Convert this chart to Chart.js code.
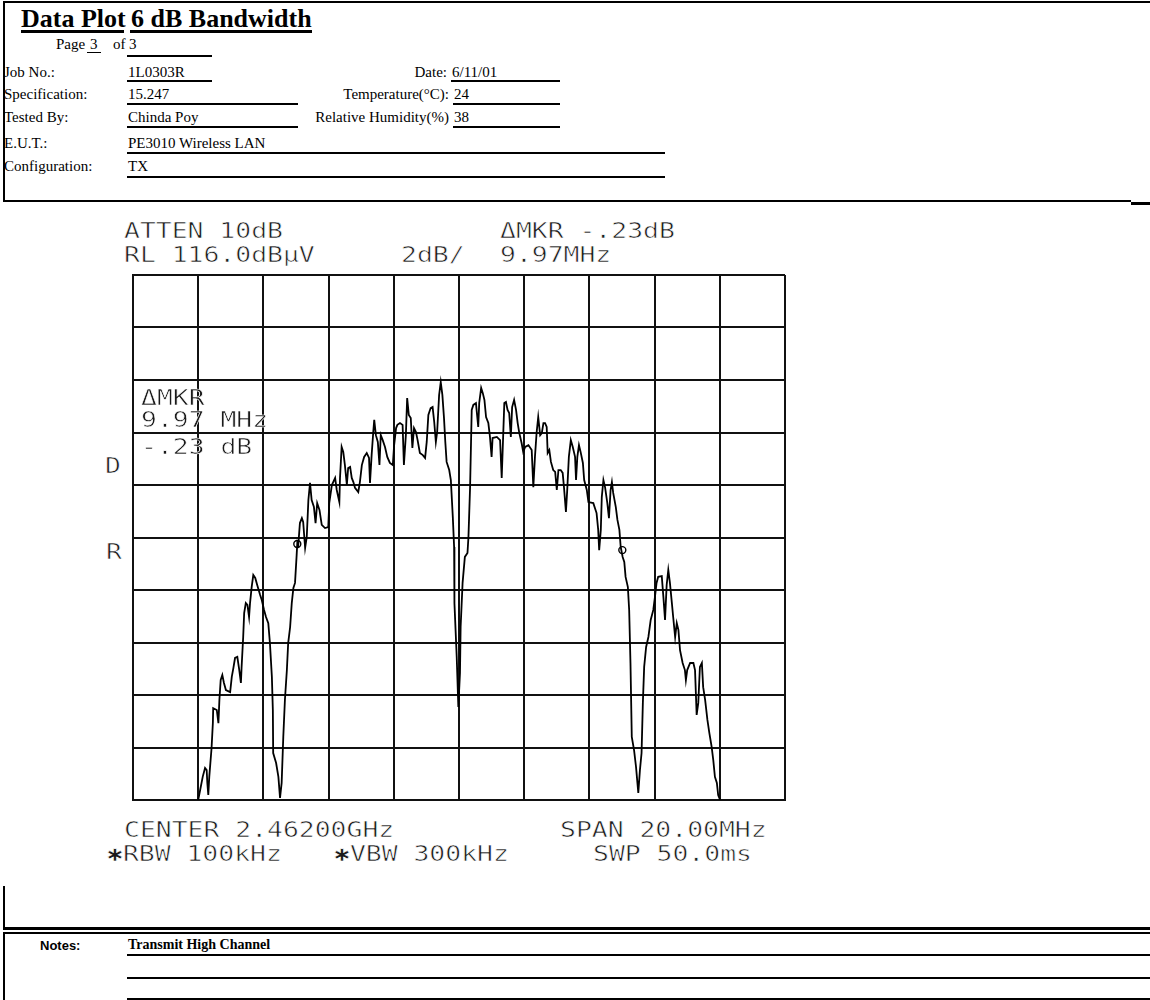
<!DOCTYPE html>
<html>
<head>
<meta charset="utf-8">
<title>Data Plot 6 dB Bandwidth</title>
<script src="https://cdn.jsdelivr.net/npm/chart.js@4.4.1/dist/chart.umd.min.js"></script>
<style>
  html, body { margin: 0; padding: 0; background: #fff; }
  #page { position: relative; width: 1150px; height: 1000px; overflow: hidden; background: #fff; color: #000; }
  .rule { position: absolute; background: #000; }
  .serif { position: absolute; font-family: 'Liberation Serif', 'Times New Roman', serif; font-size: 15px; line-height: 15px; white-space: nowrap; }
  .title { font-weight: bold; font-size: 26px; line-height: 26px; }
  .sans { position: absolute; font-family: 'Liberation Sans', Arial, sans-serif; font-weight: bold; font-size: 13px; line-height: 13px; white-space: nowrap; }
  .hp { position: absolute; font-family: 'DejaVu Sans Mono', monospace; font-size: 22px; line-height: 22px; white-space: pre; transform: scaleX(1.2); transform-origin: 0 0; color: #1a1a1a; -webkit-text-stroke: 0.6px #fff; paint-order: normal; }
  #plot { position: absolute; left: 123px; top: 265px; width: 672px; height: 545px; }
</style>
</head>
<body>
<div id="page">
  <!-- header box -->
  <div class="rule" style="left:3px;top:1px;width:1147px;height:2px"></div>
  <div class="rule" style="left:3px;top:1px;width:2px;height:201px"></div>
  <div class="rule" style="left:3px;top:200px;width:1128px;height:2px"></div>
  <div class="rule" style="left:1131px;top:202px;width:19px;height:3px"></div>

  <div class="serif title" style="left:21px;top:6px">Data Plot</div>
  <div class="rule" style="left:21px;top:30px;width:103px;height:3px"></div>
  <div class="serif title" style="left:131px;top:6px">6 dB Bandwidth</div>
  <div class="rule" style="left:130px;top:30px;width:182px;height:3px"></div>

  <div class="serif" style="left:56px;top:37px">Page</div>
  <div class="serif" style="left:90px;top:37px">3</div>
  <div class="rule" style="left:87px;top:52px;width:14px;height:1px"></div>
  <div class="serif" style="left:113px;top:37px">of</div>
  <div class="serif" style="left:129px;top:37px">3</div>
  <div class="rule" style="left:127px;top:55px;width:85px;height:2px"></div>

  <div class="serif" style="left:4px;top:65px">Job No.:</div>
  <div class="serif" style="left:128px;top:65px">1L0303R</div>
  <div class="rule" style="left:127px;top:80px;width:85px;height:2px"></div>
  <div class="serif" style="right:703px;top:65px">Date:</div>
  <div class="serif" style="left:452px;top:65px">6/11/01</div>
  <div class="rule" style="left:451px;top:80px;width:109px;height:2px"></div>

  <div class="serif" style="left:4px;top:87px">Specification:</div>
  <div class="serif" style="left:128px;top:87px">15.247</div>
  <div class="rule" style="left:127px;top:103px;width:171px;height:2px"></div>
  <div class="serif" style="right:701px;top:87px">Temperature(°C):</div>
  <div class="serif" style="left:454px;top:87px">24</div>
  <div class="rule" style="left:453px;top:103px;width:107px;height:2px"></div>

  <div class="serif" style="left:4px;top:110px">Tested By:</div>
  <div class="serif" style="left:128px;top:110px">Chinda Poy</div>
  <div class="rule" style="left:127px;top:126px;width:171px;height:2px"></div>
  <div class="serif" style="right:701px;top:110px">Relative Humidity(%)</div>
  <div class="serif" style="left:454px;top:110px">38</div>
  <div class="rule" style="left:453px;top:126px;width:107px;height:2px"></div>

  <div class="serif" style="left:4px;top:136px">E.U.T.:</div>
  <div class="serif" style="left:128px;top:136px">PE3010 Wireless LAN</div>
  <div class="rule" style="left:127px;top:152px;width:538px;height:2px"></div>

  <div class="serif" style="left:4px;top:159px">Configuration:</div>
  <div class="serif" style="left:128px;top:159px">TX</div>
  <div class="rule" style="left:127px;top:176px;width:538px;height:2px"></div>

  <!-- analyzer annotations -->
  <div class="hp" id="attn" style="left:124px;top:220px"></div>
  <div class="hp" id="dmkrTop" style="left:500px;top:220px"></div>
  <div class="hp" id="refLevel" style="left:124px;top:244px"></div>
  <div class="hp" id="scaleDiv" style="left:401px;top:244px"></div>
  <div class="hp" id="dmkrFreqTop" style="left:500px;top:244px"></div>
  <div class="hp" style="left:105px;top:455px">D</div>
  <div class="hp" style="left:106px;top:541px">R</div>

  <div id="plot"><canvas id="chart" width="672" height="545" style="width:672px;height:545px"></canvas></div>

  <div class="hp" id="boxHead" style="left:141px;top:387px">ΔMKR</div>
  <div class="hp" id="boxFreq" style="left:141px;top:409px"></div>
  <div class="hp" id="boxDb" style="left:141px;top:436px"></div>

  <div class="hp" id="center" style="left:124px;top:819px"></div>
  <div class="hp" id="span" style="left:560px;top:819px"></div>
  <div class="hp" id="rbw" style="left:107px;top:843px"></div>
  <div class="hp" id="vbw" style="left:334px;top:843px"></div>
  <div class="hp" id="swp" style="left:593px;top:843px"></div>

  <!-- notes box -->
  <div class="rule" style="left:3px;top:886px;width:2px;height:42px"></div>
  <div class="rule" style="left:3px;top:927px;width:1147px;height:3px"></div>
  <div class="rule" style="left:3px;top:932px;width:1147px;height:2px"></div>
  <div class="rule" style="left:3px;top:932px;width:2px;height:68px"></div>
  <div class="sans" style="left:40px;top:939px">Notes:</div>
  <div class="serif" style="left:128px;top:938px;font-weight:bold;font-size:14px;line-height:14px">Transmit High Channel</div>
  <div class="rule" style="left:127px;top:954px;width:1023px;height:2px"></div>
  <div class="rule" style="left:127px;top:977px;width:1023px;height:2px"></div>
  <div class="rule" style="left:127px;top:998px;width:1023px;height:2px"></div>
</div>

<script>
// Analyzer settings
const centerMHz = 2462.0;
const spanMHz = 20.0;
const refLevelDb = 116.0;
const dbPerDiv = 2;
const divisions = 10;
const attenDb = 10;
const rbwKHz = 100;
const vbwKHz = 300;
const sweepMs = 50.0;

// Delta marker readout
const markerRefMHz = 2457.04;
const markerRefDb = 105.75;
const deltaMHz = 9.97;
const deltaDb = -0.23;

// Trace: frequency (MHz) and level (dBuV)
const freqMHz = [
  2452.00, 2453.95,
  2454.00, 2454.06, 2454.14, 2454.21, 2454.26, 2454.28, 2454.31, 2454.34, 2454.41, 2454.45,
  2454.46, 2454.57, 2454.62, 2454.65, 2454.69, 2454.74, 2454.79, 2454.85, 2454.98, 2455.03,
  2455.08, 2455.13, 2455.20, 2455.26, 2455.31, 2455.33, 2455.38, 2455.41, 2455.46, 2455.51,
  2455.56, 2455.59, 2455.64, 2455.69, 2455.75, 2455.81, 2455.90, 2455.95, 2456.02, 2456.08,
  2456.15, 2456.20, 2456.26, 2456.29, 2456.30, 2456.39, 2456.46, 2456.51, 2456.56, 2456.61,
  2456.66, 2456.72, 2456.76, 2456.82, 2456.87, 2456.92, 2456.97, 2457.02, 2457.04, 2457.07,
  2457.12, 2457.18, 2457.22, 2457.28, 2457.33, 2457.38, 2457.43, 2457.48, 2457.55, 2457.60,
  2457.65, 2457.72, 2457.79, 2457.89, 2457.99, 2458.02, 2458.10, 2458.20, 2458.25, 2458.33,
  2458.35, 2458.40, 2458.45, 2458.50, 2458.56, 2458.60, 2458.66, 2458.71, 2458.76, 2458.81,
  2458.91, 2458.96, 2459.02, 2459.09, 2459.17, 2459.24, 2459.27, 2459.32, 2459.37, 2459.40,
  2459.45, 2459.51, 2459.56, 2459.60, 2459.66, 2459.73, 2459.80, 2459.88, 2459.97, 2460.01,
  2460.07, 2460.11, 2460.19, 2460.27, 2460.31, 2460.37, 2460.41, 2460.46, 2460.52, 2460.57,
  2460.62, 2460.68, 2460.73, 2460.80, 2460.89, 2460.96, 2461.01, 2461.06, 2461.13, 2461.19,
  2461.24, 2461.29, 2461.33, 2461.39, 2461.44, 2461.49, 2461.54, 2461.58, 2461.62, 2461.70,
  2461.75, 2461.81, 2461.85, 2461.86, 2461.93, 2461.98, 2462.03, 2462.05, 2462.11, 2462.18,
  2462.26, 2462.29, 2462.34, 2462.39, 2462.44, 2462.52, 2462.59, 2462.62, 2462.68, 2462.73,
  2462.78, 2462.83, 2462.90, 2462.95, 2463.00, 2463.03, 2463.16, 2463.26, 2463.31, 2463.34,
  2463.39, 2463.44, 2463.49, 2463.54, 2463.59, 2463.63, 2463.69, 2463.75, 2463.80, 2463.85,
  2463.92, 2463.97, 2464.03, 2464.13, 2464.23, 2464.28, 2464.33, 2464.38, 2464.43, 2464.49,
  2464.54, 2464.59, 2464.64, 2464.69, 2464.72, 2464.77, 2464.82, 2464.89, 2464.95, 2465.00,
  2465.05, 2465.12, 2465.18, 2465.22, 2465.28, 2465.32, 2465.37, 2465.43, 2465.49, 2465.56,
  2465.59, 2465.63, 2465.68, 2465.73, 2465.80, 2465.84, 2465.92, 2465.97, 2466.12, 2466.22,
  2466.27, 2466.30, 2466.35, 2466.38, 2466.43, 2466.48, 2466.55, 2466.60, 2466.65, 2466.69,
  2466.73, 2466.81, 2466.86, 2466.92, 2466.96, 2467.02, 2467.07, 2467.11, 2467.18, 2467.22,
  2467.26, 2467.30, 2467.37, 2467.43, 2467.50, 2467.55, 2467.60, 2467.64, 2467.68, 2467.74,
  2467.81, 2467.88, 2467.96, 2468.01, 2468.06, 2468.11, 2468.22, 2468.27, 2468.32, 2468.37,
  2468.42, 2468.47, 2468.53, 2468.57, 2468.63, 2468.68, 2468.73, 2468.78, 2468.86, 2468.93,
  2468.96, 2469.00, 2469.09, 2469.19, 2469.24, 2469.29, 2469.34, 2469.39, 2469.45, 2469.49,
  2469.55, 2469.62, 2469.68, 2469.75, 2469.80, 2469.85, 2469.91, 2469.95, 2470.01,
  2470.10, 2472.00
];
const levelDb = [
  95.00, 95.50,
  96.00, 96.38, 96.89, 97.22, 97.14, 96.65, 96.19, 96.89, 97.98, 98.93,
  99.50, 99.43, 98.93, 99.81, 100.57, 100.76, 100.46, 100.19, 100.11, 100.69,
  101.03, 101.41, 101.45, 100.95, 100.46, 101.03, 102.21, 103.12, 103.50, 103.43,
  102.97, 103.50, 104.11, 104.57, 104.46, 104.19, 103.81, 103.62, 103.24, 102.97,
  102.74, 101.98, 100.69, 99.43, 97.79, 97.41, 96.88, 96.08, 96.65, 98.40,
  99.81, 100.95, 101.98, 102.59, 103.50, 104.08, 104.27, 105.33, 105.79, 105.71,
  106.55, 106.74, 106.59, 105.60, 106.02, 107.43, 108.08, 107.43, 107.16, 106.55,
  107.31, 107.05, 106.48, 106.36, 106.40, 107.31, 108.00, 108.27, 107.81, 107.35,
  108.27, 109.45, 109.26, 108.76, 108.00, 108.65, 108.69, 108.27, 108.11, 107.89,
  107.73, 108.11, 108.76, 109.07, 109.22, 109.03, 108.08, 109.14, 110.02, 110.48,
  109.90, 109.64, 108.76, 109.90, 109.71, 109.45, 109.07, 108.84, 108.76, 109.52,
  110.17, 110.29, 110.36, 110.29, 108.76, 109.90, 111.31, 110.67, 110.55, 109.41,
  110.17, 110.02, 109.71, 109.22, 109.14, 109.03, 109.64, 110.67, 110.93, 110.97,
  110.40, 109.64, 110.02, 111.43, 111.92, 111.43, 110.55, 109.64, 108.88, 108.57,
  108.19, 106.78, 105.64, 103.50, 101.45, 99.54, 100.84, 102.59, 104.27, 105.26,
  105.41, 106.02, 107.92, 110.86, 111.05, 111.12, 110.21, 111.12, 111.70, 111.50,
  111.24, 110.59, 110.36, 109.83, 109.07, 109.79, 109.83, 109.71, 108.27, 109.33,
  111.12, 111.16, 110.86, 110.74, 109.83, 110.97, 111.24, 110.86, 110.36, 109.98,
  109.60, 109.26, 109.45, 109.52, 109.33, 107.92, 109.07, 109.98, 110.59, 109.90,
  109.98, 110.36, 110.36, 110.21, 109.22, 109.33, 108.88, 108.57, 108.50, 107.81,
  108.57, 108.57, 108.46, 107.92, 106.97, 107.81, 109.07, 109.71, 109.45, 109.07,
  108.19, 109.07, 109.52, 109.26, 108.84, 108.19, 107.81, 107.35, 107.31, 106.93,
  106.29, 105.52, 106.29, 107.54, 108.19, 107.92, 107.31, 106.74, 107.81, 108.11,
  107.70, 107.16, 106.67, 106.29, 105.64, 105.26, 105.07, 104.50, 104.11, 103.24,
  101.22, 98.40, 97.90, 97.26, 96.27, 97.14, 97.79, 99.70, 101.07, 101.83,
  102.21, 102.86, 103.24, 103.73, 104.27, 104.50, 104.53, 103.73, 102.86, 104.19,
  104.76, 104.27, 103.50, 102.97, 102.21, 102.74, 102.48, 101.71, 101.22, 100.95,
  100.57, 100.95, 101.22, 101.22, 100.95, 99.24, 99.70, 101.07, 101.22, 100.30,
  99.81, 99.05, 98.55, 98.02, 97.52, 96.88, 96.65, 96.19, 96.00,
  95.50, 95.00
];

// Readout text
function signedShort(v) {
  const s = Math.abs(v).toFixed(2).replace(/^0/, '');
  return (v < 0 ? '-' : '') + s;
}
const setText = (id, t) => { document.getElementById(id).textContent = t; };
setText('attn', 'ATTEN ' + attenDb + 'dB');
setText('dmkrTop', 'ΔMKR ' + signedShort(deltaDb) + 'dB');
setText('refLevel', 'RL ' + refLevelDb.toFixed(1) + 'dBμV');
setText('scaleDiv', dbPerDiv + 'dB/');
setText('dmkrFreqTop', deltaMHz.toFixed(2) + 'MHz');
setText('boxFreq', deltaMHz.toFixed(2) + ' MHz');
setText('boxDb', signedShort(deltaDb) + ' dB');
setText('center', 'CENTER ' + (centerMHz / 1000).toFixed(5) + 'GHz');
setText('span', 'SPAN ' + spanMHz.toFixed(2) + 'MHz');
setText('rbw', '✱RBW ' + rbwKHz + 'kHz');
setText('vbw', '✱VBW ' + vbwKHz + 'kHz');
setText('swp', 'SWP ' + sweepMs.toFixed(1) + 'ms');

const tracePoints = freqMHz.map((f, i) => ({ x: f, y: levelDb[i] }));
const markerPoints = [
  { x: markerRefMHz, y: markerRefDb },
  { x: markerRefMHz + deltaMHz, y: markerRefDb + deltaDb }
];

const gridColor = '#111';
new Chart(document.getElementById('chart'), {
  type: 'line',
  data: {
    datasets: [
      {
        data: tracePoints,
        borderColor: '#000',
        borderWidth: 1.8,
        pointRadius: 0,
        tension: 0,
        fill: false
      },
      {
        data: markerPoints,
        showLine: false,
        pointRadius: 3.5,
        pointBorderWidth: 1.4,
        pointBorderColor: '#000',
        pointBackgroundColor: 'rgba(255,255,255,0)'
      }
    ]
  },
  options: {
    responsive: false,
    animation: false,
    devicePixelRatio: 1,
    layout: { padding: 10 },
    plugins: { legend: { display: false }, tooltip: { enabled: false } },
    scales: {
      x: {
        type: 'linear',
        min: centerMHz - spanMHz / 2,
        max: centerMHz + spanMHz / 2,
        ticks: { display: false, stepSize: spanMHz / divisions },
        grid: { color: gridColor, lineWidth: 2, drawTicks: false },
        border: { color: gridColor, width: 2 }
      },
      y: {
        type: 'linear',
        min: refLevelDb - dbPerDiv * divisions,
        max: refLevelDb,
        ticks: { display: false, stepSize: dbPerDiv },
        grid: { color: gridColor, lineWidth: 2, drawTicks: false },
        border: { color: gridColor, width: 2 }
      }
    }
  }
});
</script>
</body>
</html>
